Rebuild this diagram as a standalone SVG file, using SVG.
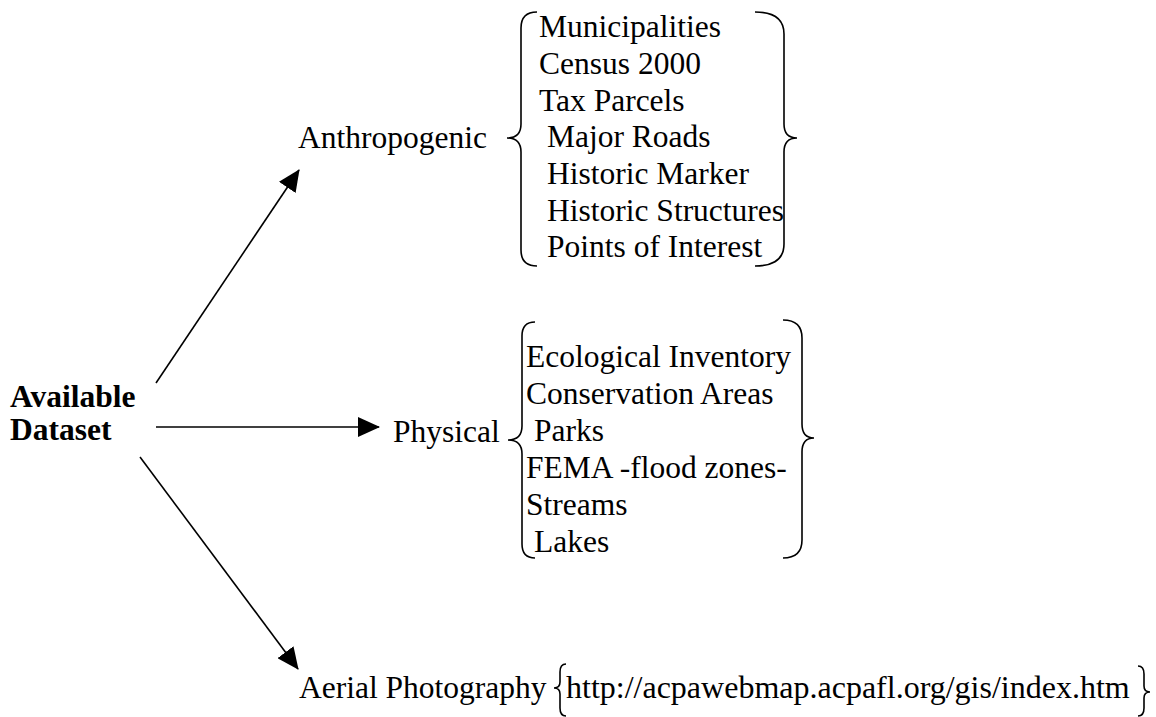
<svg xmlns="http://www.w3.org/2000/svg" width="1156" height="717" viewBox="0 0 1156 717">
<style>
text{font-family:'Liberation Serif','Tinos','Times New Roman','DejaVu Serif',serif;font-size:31.5px;fill:#000}
.b{font-weight:bold}
.brace{fill:none;stroke:#000;stroke-width:1.6}
.conn{stroke:#000;stroke-width:1.6;fill:none}
</style>
<defs>
<marker id="ah" markerUnits="userSpaceOnUse" markerWidth="22" markerHeight="20" viewBox="0 0 22 20" refX="21" refY="10" orient="auto"><path d="M0,0 L22,10 L0,20 z" fill="#000"/></marker>
</defs>
<rect width="1156" height="717" fill="#fff"/>
<g id="connectors">
<line class="conn" x1="156" y1="383" x2="299" y2="170" marker-end="url(#ah)"/>
<line class="conn" x1="156" y1="427" x2="379" y2="427" marker-end="url(#ah)"/>
<line class="conn" x1="140" y1="457" x2="298" y2="669" marker-end="url(#ah)"/>
</g>
<g font-family="Liberation Serif, serif">
<g id="available-dataset">
<text class="b" x="10" y="407">Available</text>
<text class="b" x="10" y="440">Dataset</text>
</g>
<g id="anthropogenic">
<text x="298" y="148">Anthropogenic</text>
<path class="brace" d="M537,12 Q521,12 521,28 L521,124 Q521,138 507,138 Q521,138 521,152 L521,250 Q521,266 537,266"/>
<text x="539" y="37">Municipalities</text>
<text x="539" y="74">Census 2000</text>
<text x="539" y="111">Tax Parcels</text>
<text x="547" y="147">Major Roads</text>
<text x="547" y="184">Historic Marker</text>
<text x="547" y="221">Historic Structures</text>
<text x="547" y="257">Points of Interest</text>
<path class="brace" d="M755,12 Q784,12 784,34 L784,124 Q784,138 797,138 Q784,138 784,152 L784,244 Q784,266 755,266"/>
</g>
<g id="physical">
<text x="393" y="442">Physical</text>
<path class="brace" d="M535,322 Q522,322 522,336 L522,426 Q522,440 508,440 Q522,440 522,454 L522,544 Q522,558 535,558"/>
<text x="526" y="367">Ecological Inventory</text>
<text x="526" y="404">Conservation Areas</text>
<text x="534" y="441">Parks</text>
<text x="526" y="478">FEMA -flood zones-</text>
<text x="526" y="515">Streams</text>
<text x="534" y="552">Lakes</text>
<path class="brace" d="M783,320 Q802,320 802,338 L802,424 Q802,438 814,438 Q802,438 802,452 L802,540 Q802,558 783,558"/>
</g>
<g id="aerial-photography">
<text x="299" y="698">Aerial Photography</text>
<path class="brace" d="M566,664 Q560,664 560,672 L560,682 Q560,688 554,688 Q560,688 560,694 L560,708 Q560,716 566,716"/>
<text x="566" y="698" style="font-size:32px">http://acpawebmap.acpafl.org/gis/index.htm</text>
<path class="brace" d="M1138,666 Q1144,666 1144,674 L1144,686 Q1144,692 1150,692 Q1144,692 1144,698 L1144,708 Q1144,716 1138,716"/>
</g>
</g>
</svg>
